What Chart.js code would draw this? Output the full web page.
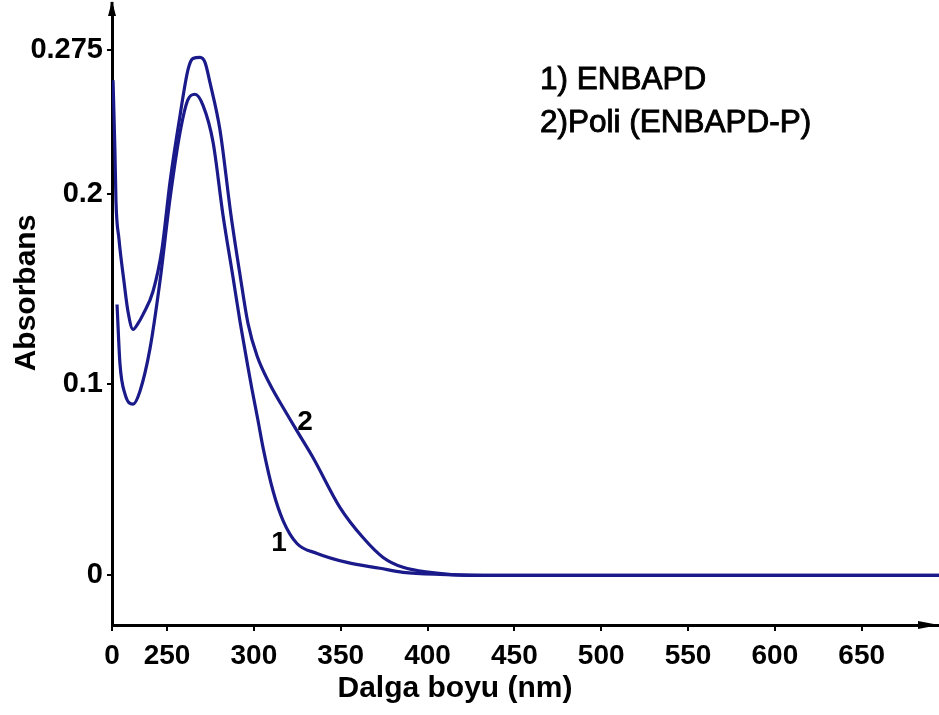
<!DOCTYPE html>
<html><head><meta charset="utf-8">
<script src="https://cdn.jsdelivr.net/npm/chart.js@4"></script>
<style>html,body{margin:0;padding:0;background:#fff;}#wrap{width:939px;height:715px;position:relative;}</style>
</head><body><div id="wrap"><canvas id="c" width="939" height="715"></canvas></div>
<script>
// Series 1: ENBAPD
const wl1  = [221.2,222.9,225.8,230.4,234.4,240.2,245.9,251.7,257.5,262.1,266.1,270.7,276.5,282.2,288.0,292.0,296.6,298.9,302.4,305.3,311.0,316.8,324.8,336.4,353.6,372.6,385.9,407.2,441.7,694.5];
const abs1 = [0.1419,0.1106,0.0949,0.0897,0.0965,0.1189,0.1539,0.1972,0.2321,0.2493,0.2520,0.2462,0.2269,0.1888,0.1560,0.1330,0.1090,0.0975,0.0810,0.0668,0.0443,0.0287,0.0167,0.0115,0.0068,0.0037,0.0016,0.0005,0,0];
// Series 2: Poli (ENBAPD-P)
const wl2  = [218.9,220.0,220.6,222.3,225.2,227.5,230.4,233.3,236.2,241.9,247.1,251.7,257.5,262.1,264.9,269.0,271.9,274.7,280.5,286.8,292.0,296.6,301.8,309.3,318.0,324.8,334.1,349.6,362.8,374.4,385.9,401.4,424.5,694.5];
const abs2 = [0.2593,0.2217,0.1956,0.1763,0.1539,0.1382,0.1288,0.1320,0.1367,0.1487,0.1711,0.2061,0.2410,0.2650,0.2707,0.2713,0.2686,0.2582,0.2332,0.1888,0.1575,0.1320,0.1150,0.1000,0.0861,0.0757,0.0616,0.0355,0.0198,0.0094,0.0042,0.0016,0,0];

const xTickValues = [250,300,350,400,450,500,550,600,650];
const yTickValues = [0,0.1,0.2,0.275];
const yTickLabels = ['0','0.1','0.2','0.275'];
const xOriginLabel = '0';
const xMin = 218.3, xMax = 694.5, yMin = -0.026, yMax = 0.297;
const xTitle = 'Dalga boyu (nm)';
const yTitle = 'Absorbans';
const legendLines = ['1) ENBAPD', '2)Poli (ENBAPD-P)'];
const curveLabels = [{text:'1', x:314.5, y:0.0167}, {text:'2', x:329.4, y:0.0803}];

const lineColor = '#1a1a8a';
const FONT = '"Liberation Sans", Arial, sans-serif';

const toPts = (xs, ys) => xs.map((v, i) => ({x: v, y: ys[i]}));

const deco = {
  id: 'deco',
  afterDraw(chart) {
    const ctx = chart.ctx, xs = chart.scales.x, ys = chart.scales.y, ca = chart.chartArea;
    ctx.save();
    ctx.fillStyle = '#000';
    ctx.strokeStyle = '#000';
    // legend text
    ctx.font = '31.5px ' + FONT;
    ctx.textAlign = 'left'; ctx.textBaseline = 'middle';
    ctx.lineWidth = 0.9;
    legendLines.forEach((t, i) => {
      ctx.fillText(t, 540, 80 + i * 43);
      ctx.strokeText(t, 540, 80 + i * 43);
    });
    // curve labels
    ctx.font = 'bold 28px ' + FONT;
    ctx.textAlign = 'center';
    curveLabels.forEach(l => ctx.fillText(l.text, xs.getPixelForValue(l.x), ys.getPixelForValue(l.y)));
    // axis titles
    ctx.font = 'bold 30px ' + FONT;
    ctx.fillText(xTitle, 455, 689);
    ctx.save();
    ctx.translate(27, 293);
    ctx.rotate(-Math.PI / 2);
    ctx.fillText(yTitle, 0, 0);
    ctx.restore();
    // axis line extension to top + arrows
    ctx.lineWidth = 3;
    ctx.beginPath(); ctx.moveTo(ca.left, ca.top); ctx.lineTo(ca.left, 2); ctx.stroke();
    ctx.beginPath();
    ctx.moveTo(ca.left - 4, 16); ctx.lineTo(ca.left, 1); ctx.lineTo(ca.left + 4, 16); ctx.closePath(); ctx.fill();
    ctx.beginPath();
    ctx.moveTo(918, ca.bottom - 4); ctx.lineTo(939, ca.bottom); ctx.lineTo(918, ca.bottom + 4); ctx.closePath(); ctx.fill();
    ctx.restore();
  }
};

new Chart(document.getElementById('c'), {
  type: 'line',
  data: {
    datasets: [
      {label: legendLines[0], data: toPts(wl1, abs1), borderColor: lineColor, borderWidth: 3.2, pointRadius: 0, cubicInterpolationMode: 'monotone', fill: false},
      {label: legendLines[1], data: toPts(wl2, abs2), borderColor: lineColor, borderWidth: 3.2, pointRadius: 0, cubicInterpolationMode: 'monotone', fill: false}
    ]
  },
  options: {
    responsive: false, animation: false, devicePixelRatio: 1,
    layout: {padding: {top: 5, left: 0, right: 0, bottom: 0}},
    plugins: {legend: {display: false}, tooltip: {enabled: false}},
    scales: {
      x: {
        type: 'linear', min: xMin, max: xMax,
        afterBuildTicks: s => { s.ticks = [{value: xMin}].concat(xTickValues.map(v => ({value: v}))); },
        afterFit: s => { s.height = 90; },
        ticks: {autoSkip: false, maxRotation: 0, minRotation: 0, color: '#000', padding: 8,
          font: {family: FONT, size: 28, weight: 'bold'},
          callback: v => (Math.abs(v - xMin) < 1e-6 ? xOriginLabel : String(v))},
        grid: {drawOnChartArea: false, drawTicks: true, tickLength: 6, color: '#000', lineWidth: 2},
        border: {display: true, color: '#000', width: 3}
      },
      y: {
        type: 'linear', min: yMin, max: yMax,
        afterBuildTicks: s => { s.ticks = yTickValues.map(v => ({value: v})); },
        afterFit: s => { s.width = 112; },
        ticks: {autoSkip: false, color: '#000', padding: 4,
          font: {family: FONT, size: 29, weight: 'bold', lineHeight: 0.3},
          callback: v => { const i = yTickValues.findIndex(t => Math.abs(t - v) < 1e-9); return i >= 0 ? yTickLabels[i] : ''; }},
        grid: {drawOnChartArea: false, drawTicks: true, tickLength: 5, color: '#000', lineWidth: 2},
        border: {display: true, color: '#000', width: 3}
      }
    }
  },
  plugins: [deco]
});
</script></body></html>
